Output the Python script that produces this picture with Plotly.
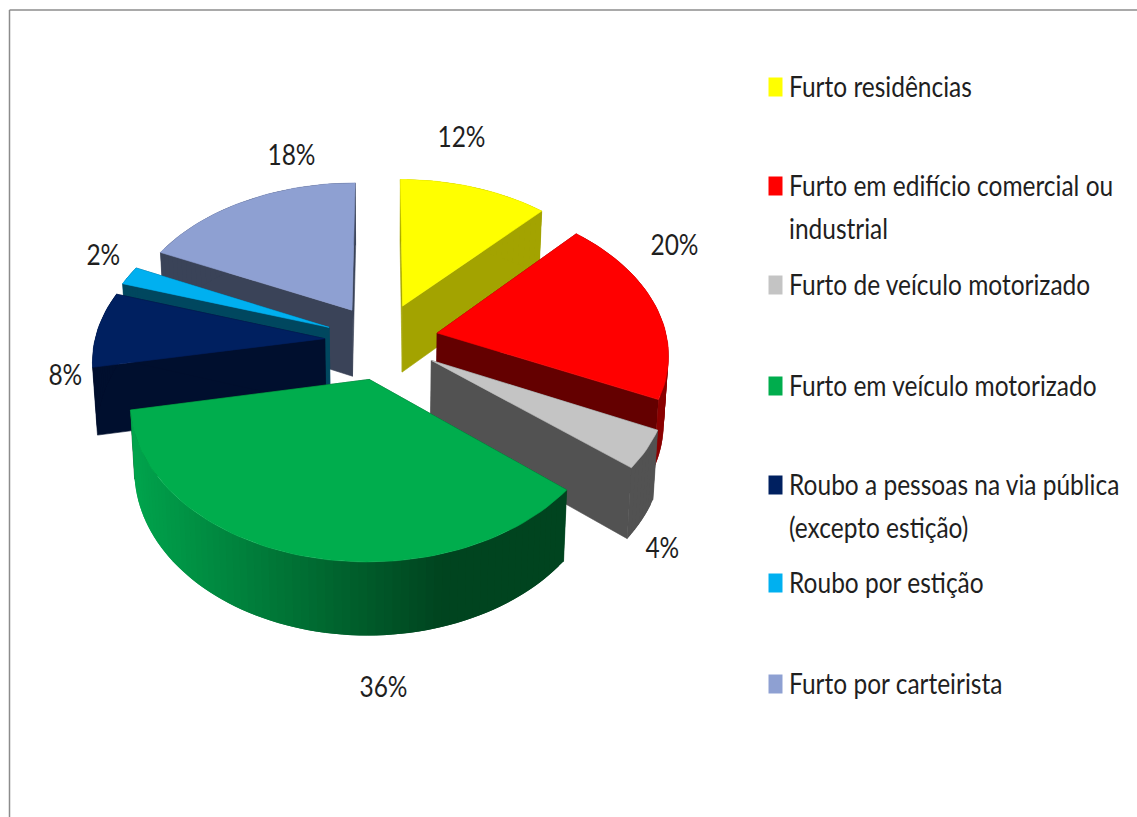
import math
import plotly.graph_objects as go

# ---- data ----
categories = ["Furto residências", "Furto em edifício comercial ou<br>industrial",
              "Furto de veículo motorizado", "Furto em veículo motorizado",
              "Roubo a pessoas na via pública<br>(excepto estição)", "Roubo por estição",
              "Furto por carteirista"]
values = [12, 20, 4, 36, 8, 2, 18]
top_colors = ["#ffff00", "#ff0000", "#c4c4c4", "#00ad4d", "#002060", "#00b0f0", "#8ea0d2"]
side_colors = ["#a3a300", "#640000", "#525252", "#00441f", "#000f2e", "#00475f", "#3a4358"]
rim_left = ["#a3a300", "#640000", "#525252", "#00a54d", "#000f2e", "#00475f", "#3a4358"]
rim_right = ["#a3a300", "#8a0000", "#525252", "#00441f", "#000f2e", "#00475f", "#3a4358"]

# ---- style / layout ----
W, H = 1137, 817
CX, CY, A, B, P = 382, 341, 230, 150, 0.123
EXPLODE = 0.25
BOTTOM_SCALE = 0.983
RIM_STOP = 0.73
slice_shift = [(0, -1), (-1, -1), (0, -1), (2, 1), (0, 0), (0, 0), (0, 0)]
draw_order = [6, 0, 5, 4, 1, 2, 3]
label_pos = [(461, 136), (674, 244), (662, 547), (383, 686), (65, 374), (103, 254), (291, 154)]
legend_y = [87, 186, 285, 386, 485, 583, 684]
FONT = "Lato"
FONT_SIZE = 28
TEXT = "#1f1f1f"
SQUEEZE = 0.875
LEGEND_X = 787


def project(X, Y, shift):
    s = 1 / (1 + P * Y)
    return CX + A * X * s + shift[0], CY - B * Y * s + shift[1]


def lower(pt):
    return CX + (pt[0] - CX) * BOTTOM_SCALE, pt[1] + 67 + (pt[1] - CY) * 0.03


def mix(c1, c2, t):
    a = [int(c1[i:i + 2], 16) for i in (1, 3, 5)]
    b = [int(c2[i:i + 2], 16) for i in (1, 3, 5)]
    return "rgb(%d,%d,%d)" % tuple(round(p + (q - p) * t) for p, q in zip(a, b))


def poly(fig, pts, color, lw=0.6):
    xs = [p[0] for p in pts] + [pts[0][0]]
    ys = [p[1] for p in pts] + [pts[0][1]]
    fig.add_trace(go.Scatter(x=xs, y=ys, mode="lines", fill="toself", fillcolor=color,
                             line=dict(color=color, width=lw), hoverinfo="skip",
                             showlegend=False))


fig = go.Figure()
total = sum(values)
spans = []
acc = 0
for v in values:
    spans.append((acc / total * 2 * math.pi, (acc + v) / total * 2 * math.pi))
    acc += v

for i in draw_order:
    a0, a1 = spans[i]
    mid = (a0 + a1) / 2
    ox, oy = EXPLODE * math.sin(mid), EXPLODE * math.cos(mid)
    n = max(6, int(values[i] * 2))
    arc = []
    for k in range(n + 1):
        t = a0 + (a1 - a0) * k / n
        arc.append(project(ox + math.sin(t), oy + math.cos(t), slice_shift[i]))
    apex = project(ox, oy, slice_shift[i])
    # radial cut faces
    poly(fig, [apex, arc[0], lower(arc[0]), lower(apex)], side_colors[i])
    poly(fig, [apex, arc[-1], lower(arc[-1]), lower(apex)], side_colors[i])
    # rim, shaded along the screen x position (drawn overlapping so no seams show)
    xmin, xmax = min(p[0] for p in arc), max(p[0] for p in arc)
    order = sorted(range(n), key=lambda k: arc[k][0])
    for k in order:
        p, q = arc[k], arc[min(k + 2, n)]
        tt = ((arc[k][0] + arc[k + 1][0]) / 2 - xmin) / max(1, xmax - xmin)
        poly(fig, [p, q, lower(q), lower(p)],
             mix(rim_left[i], rim_right[i], min(1, tt / RIM_STOP)), lw=0)
    # top face
    poly(fig, [apex] + arc, top_colors[i])

# percentage labels
for v, (lx, ly) in zip(values, label_pos):
    fig.add_annotation(x=lx, y=ly, text=f"{v}%", showarrow=False, xanchor="center",
                       yanchor="middle", font=dict(family=FONT, size=FONT_SIZE, color=TEXT))

# legend
shapes = [
    dict(type="line", x0=9.5, x1=W, y0=10, y1=10, line=dict(color="#8c8c8c", width=1.5)),
    dict(type="line", x0=9.5, x1=9.5, y0=10, y1=H, line=dict(color="#8c8c8c", width=1.5)),
]
for name, col, ly in zip(categories, top_colors, legend_y):
    shapes.append(dict(type="rect", x0=768.5, x1=782.5, y0=ly - 9.5, y1=ly + 9.5,
                       fillcolor=col, line=dict(width=0)))
    for j, part in enumerate(name.split("<br>")):
        fig.add_annotation(x=LEGEND_X, y=ly - 1 + j * 43, text=part, showarrow=False, xanchor="left",
                           yanchor="middle", font=dict(family=FONT, size=FONT_SIZE, color=TEXT))

fig.update_layout(
    width=W, height=H, margin=dict(l=0, r=0, t=0, b=0),
    paper_bgcolor="white", plot_bgcolor="white", shapes=shapes, showlegend=False,
    xaxis=dict(range=[0, W], visible=False, fixedrange=True),
    yaxis=dict(range=[H, 0], visible=False, fixedrange=True),
)
squeeze_js = """
document.body.style.margin='0';document.body.style.overflow='hidden';
document.querySelectorAll('.annotation-text').forEach(function(t){
  var b=t.getBBox();
  var isPct=t.textContent.indexOf('%')>=0;
  var ox=isPct?b.x+b.width/2:b.x;
  t.setAttribute('transform','translate('+ox+',0) scale(SQZ,1) translate('+(-ox)+',0)');
});
""".replace("SQZ", str(SQUEEZE))
fig.write_html("out.html", config=dict(displayModeBar=False), post_script=squeeze_js)
